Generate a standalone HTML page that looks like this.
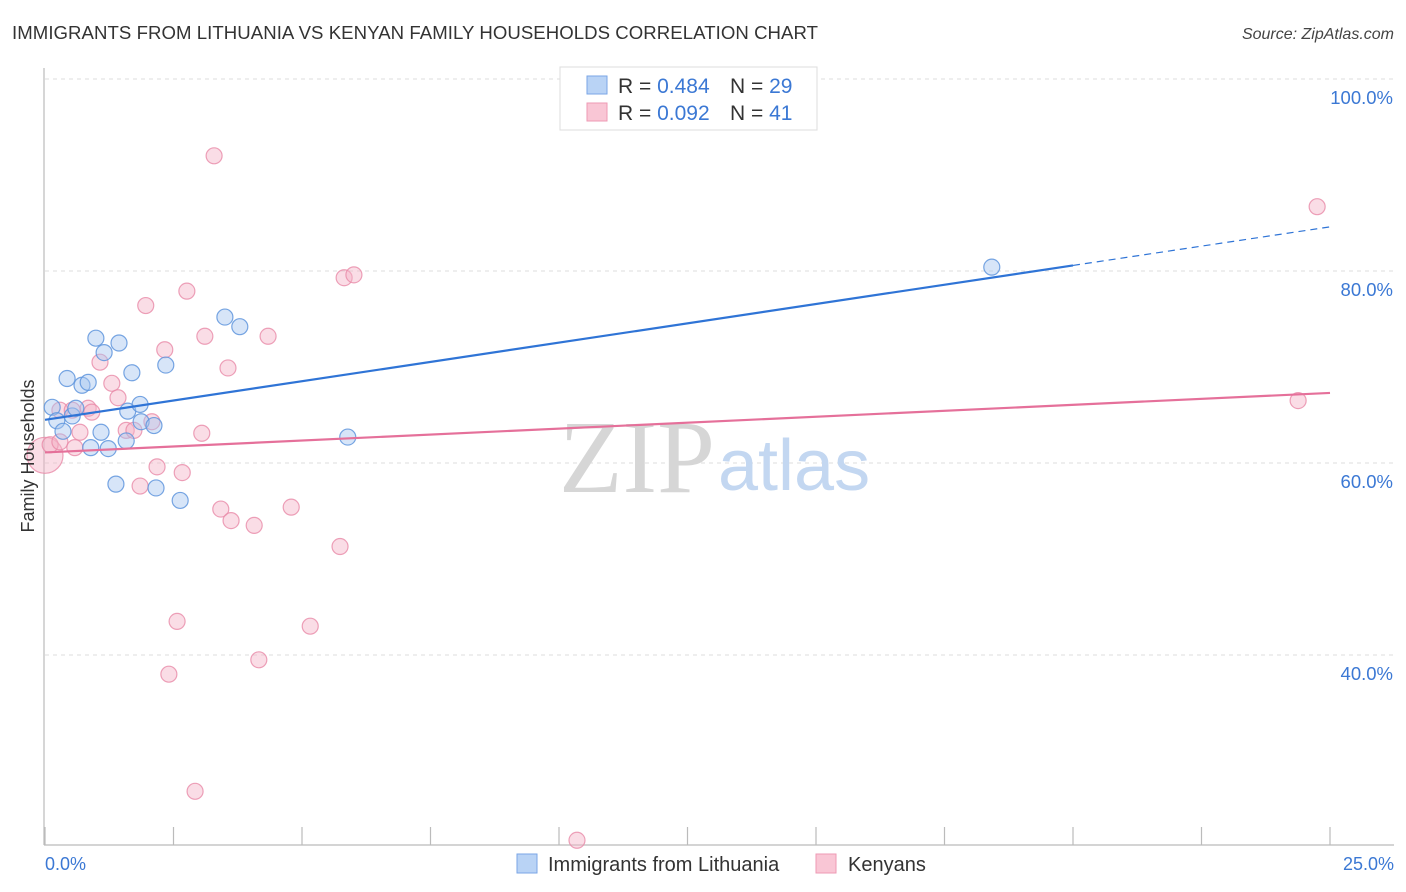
<!DOCTYPE html>
<html><head><meta charset="utf-8"><style>
html,body{margin:0;padding:0;background:#fff;width:1406px;height:892px;overflow:hidden;font-family:"Liberation Sans",sans-serif}
svg text{font-family:"Liberation Sans",sans-serif}
</style></head><body>
<svg id="chart" width="1406" height="892" xmlns="http://www.w3.org/2000/svg">
<text x="12" y="39" font-size="18.6" fill="#333" textLength="806">IMMIGRANTS FROM LITHUANIA VS KENYAN FAMILY HOUSEHOLDS CORRELATION CHART</text>
<text x="1394" y="39" font-size="16" fill="#444" text-anchor="end" font-style="italic">Source: ZipAtlas.com</text>
<g id="grid"></g>
<g>
<text x="715" y="492" font-size="104" fill="#d6d6d6" text-anchor="end" style="font-family:'Liberation Serif',serif">ZIP</text>
<text x="718" y="490" font-size="72" fill="#c3d7f1">atlas</text>
</g>
<line x1="44" y1="68" x2="44" y2="845" stroke="#bbb" stroke-width="1.2"/>
<line x1="44" y1="845" x2="1394" y2="845" stroke="#bbb" stroke-width="1.2"/>
<g id="xticks"></g>
<g id="pts"></g>
<g id="trends"></g>
<text transform="translate(34,456) rotate(-90)" font-size="18" fill="#333" text-anchor="middle">Family Households</text>
<text x="45" y="870" font-size="18" fill="#3b78d4">0.0%</text>
<text x="1394" y="870" font-size="18" fill="#3b78d4" text-anchor="end">25.0%</text>
<g>
<rect x="560" y="67" width="257" height="63" fill="#fff" stroke="#ddd"/>
<rect x="587" y="76" width="20" height="18" fill="#b9d3f5" stroke="#7aa6e6"/>
<rect x="587" y="103" width="20" height="18" fill="#f9c6d5" stroke="#ee9ab4"/>
<text x="618" y="93" font-size="21" fill="#333">R = <tspan fill="#3b78d4">0.484</tspan></text>
<text x="730" y="93" font-size="21" fill="#333">N = <tspan fill="#3b78d4">29</tspan></text>
<text x="618" y="120" font-size="21" fill="#333">R = <tspan fill="#3b78d4">0.092</tspan></text>
<text x="730" y="120" font-size="21" fill="#333">N = <tspan fill="#3b78d4"> 41</tspan></text>
</g>
<g>
<rect x="517" y="854" width="20" height="19" fill="#b9d3f5" stroke="#7aa6e6"/>
<text x="548" y="871" font-size="20" fill="#333">Immigrants from Lithuania</text>
<rect x="816" y="854" width="20" height="19" fill="#f9c6d5" stroke="#ee9ab4"/>
<text x="848" y="871" font-size="20" fill="#333">Kenyans</text>
</g>
</svg>
<script>
const yTicks=[40,60,80,100];
const yTickLabels=["40.0%","60.0%","80.0%","100.0%"];
const xTicks=[0,2.5,5,7.5,10,12.5,15,17.5,20,22.5,25];
const blueX=[0.14,0.23,0.35,0.43,0.72,0.84,0.53,0.60,0.99,1.15,1.44,1.09,1.23,0.89,1.61,1.85,1.58,1.87,2.12,1.69,2.35,1.38,2.16,2.63,3.50,3.79,5.89,18.42];
const blueY=[65.8,64.4,63.3,68.8,68.1,68.4,64.9,65.7,73.0,71.5,72.5,63.2,61.5,61.6,65.4,66.1,62.3,64.3,63.9,69.4,70.2,57.8,57.4,56.1,75.2,74.2,62.7,80.4];
const pinkX=[0.0,0.1,0.29,0.29,0.53,0.68,0.84,0.91,0.58,1.30,1.07,1.42,1.58,1.73,2.08,1.85,2.18,2.67,2.33,1.96,2.76,3.11,3.29,3.05,3.56,4.34,3.42,3.62,4.07,4.79,5.74,5.82,6.01,2.57,2.41,4.16,5.16,2.92,10.35,24.38,24.75];
const pinkY=[60.8,61.9,62.2,65.5,65.5,63.2,65.7,65.3,61.6,68.3,70.5,66.8,63.4,63.4,64.3,57.6,59.6,59.0,71.8,76.4,77.9,73.2,92.0,63.1,69.9,73.2,55.2,54.0,53.5,55.4,51.3,79.3,79.6,43.5,38.0,39.5,43.0,25.8,20.7,66.5,86.7];
const blueTrend=[64.5,84.6];
const pinkTrend=[61.1,67.3];
const NS="http://www.w3.org/2000/svg";
function sx(v){return 45+v/25*1285;}
function sy(v){return 79+(100-v)*9.6;}
function mk(tag,attrs,parent){const e=document.createElementNS(NS,tag);for(const k in attrs)e.setAttribute(k,attrs[k]);parent.appendChild(e);return e;}
const grid=document.getElementById('grid');
yTicks.forEach((t,i)=>{
  const l=mk('line',{x1:45,x2:1394,y1:sy(t),y2:sy(t),stroke:'#ddd','stroke-dasharray':'4,4'},grid);
  
  
  const tx=mk('text',{x:1393,y:sy(t)+25,'font-size':18.5,fill:'#3b78d4','text-anchor':'end'},grid);
  tx.textContent=yTickLabels[i];
  
  
});
const xt=document.getElementById('xticks');
xTicks.forEach(t=>{
  const l=mk('line',{x1:sx(t),x2:sx(t),y1:827,y2:845,stroke:'#bbb','stroke-width':1.2},xt);
  
  
});
const pts=document.getElementById('pts');
pinkX.forEach((x,i)=>{
  const c=mk('circle',{cx:sx(x),cy:sy(pinkY[i]),r:i===0?18:8,fill:'#f5b3c7','fill-opacity':0.45,stroke:'#e88aa8','stroke-opacity':0.8,'stroke-width':1.2},pts);
  
  
});
blueX.forEach((x,i)=>{
  const c=mk('circle',{cx:sx(x),cy:sy(blueY[i]),r:8,fill:'#a6c6f0','fill-opacity':0.45,stroke:'#5f95dd','stroke-opacity':0.85,'stroke-width':1.2},pts);
  
  
});
const tr=document.getElementById('trends');
const bAt=v=>blueTrend[0]+(blueTrend[1]-blueTrend[0])*v/25;
let l1=mk('line',{x1:sx(0),y1:sy(bAt(0)),x2:sx(20),y2:sy(bAt(20)),stroke:'#2f74d6','stroke-width':2.2},tr);


let l2=mk('line',{x1:sx(20),y1:sy(bAt(20)),x2:sx(25),y2:sy(bAt(25)),stroke:'#2f74d6','stroke-width':1.2,'stroke-dasharray':'7,5'},tr);


let l3=mk('line',{x1:sx(0),y1:sy(pinkTrend[0]),x2:sx(25),y2:sy(pinkTrend[1]),stroke:'#e5709a','stroke-width':2.2},tr);


</script>
</body></html>
